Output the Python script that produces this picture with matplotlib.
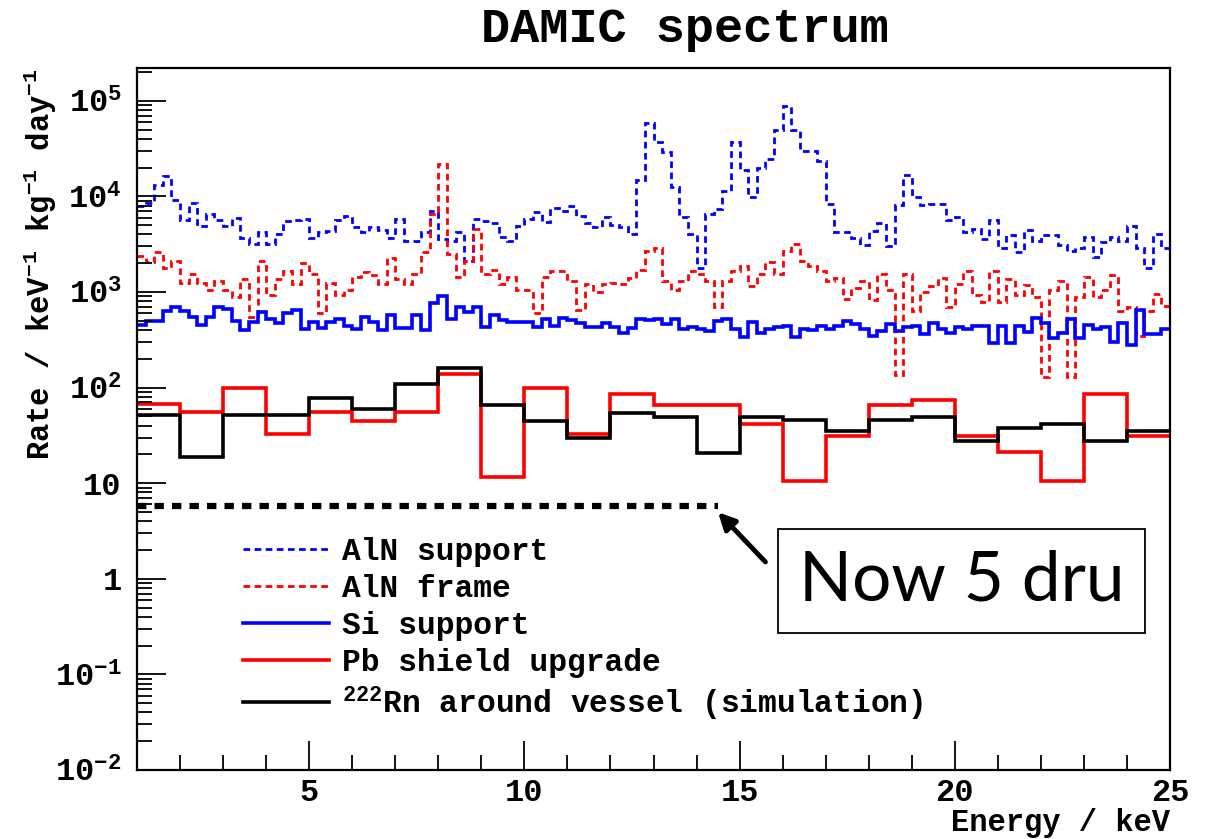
import numpy as np
import matplotlib
matplotlib.use("Agg")
import matplotlib.pyplot as plt
from matplotlib.ticker import FixedLocator, FuncFormatter, LogLocator, NullFormatter, MultipleLocator

# ---- data ----
fine_edges = np.linspace(1.0, 25.0, 121)      # 0.2 keV bins
coarse_edges = np.arange(1.0, 26.0, 1.0)      # 1 keV bins

aln_support = [
    8000, 8500, 13000, 16500, 9100, 5700, 8500, 4900, 6500, 5700, 4900, 6000, 3700,
    3200, 4200, 3200, 4000, 5500, 5600, 5800, 3700, 4200, 4300, 5600, 6300,
    4800, 4200, 4800, 4400, 3700, 5800, 3400, 3400, 4200, 7000, 3600, 3400,
    4200, 2100, 5800, 5500, 5200, 3800, 3400, 4900, 5800, 6800, 5400, 7500,
    7000, 8000, 6300, 5200, 4800, 6100, 5000, 4800, 4000, 15000, 58000, 37000,
    29000, 12600, 6100, 4000, 1800, 6500, 7300, 11500, 37000, 19000, 9800, 20000,
    24500, 49000, 89000, 49000, 30000, 30000, 23700, 8300, 4200, 4200, 3700, 3100,
    4300, 5200, 3000, 8100, 16600, 9800, 8100, 8300, 8300, 5600, 6100, 4200,
    4600, 3600, 5600, 2900, 3900, 2600, 4400, 3400, 3900, 3900, 3100, 2700,
    2900, 3800, 2300, 3300, 3800, 3400, 4900, 2900, 1800, 4000, 2900,
]

aln_frame = [
    2350, 2050, 2600, 1800, 2100, 1230, 1550, 1230, 1050, 1300, 1050, 890, 1350,
    550, 2100, 920, 1350, 1650, 1200, 2000, 1550, 600, 1230, 920, 1050,
    1420, 1600, 1500, 1200, 2250, 1350, 1200, 1550, 2600, 6600, 22000, 2500,
    1420, 2100, 4600, 1550, 1700, 1200, 1420, 1050, 1050, 600, 1420, 1650,
    1650, 1300, 650, 1200, 1000, 1200, 1250, 1200, 1400, 1700, 2700, 2900,
    1300, 1050, 1300, 1650, 1550, 1300, 700, 1300, 1650, 1850, 1150, 1550,
    2050, 1550, 2700, 3200, 2100, 1850, 1650, 1300, 1400, 850, 1100, 1300,
    830, 1550, 1050, 135, 1550, 630, 1000, 1150, 1400, 700, 1200, 1650,
    920, 780, 1650, 780, 1380, 920, 1170, 890, 130, 1050, 1300, 130,
    890, 1420, 890, 1050, 1500, 630, 700, 350, 630, 960, 720,
]

si_support = [
    450, 500, 500, 630, 690, 630, 550, 450, 550, 700, 660, 500, 400,
    480, 620, 520, 470, 600, 650, 405, 490, 415, 490, 520, 445,
    405, 550, 480, 400, 580, 415, 415, 575, 400, 760, 900, 520,
    700, 620, 690, 430, 580, 510, 480, 490, 490, 430, 520, 440,
    535, 510, 470, 435, 435, 470, 427, 370, 415, 520, 505, 520,
    465, 520, 410, 435, 410, 395, 500, 520, 410, 340, 480, 370,
    412, 435, 445, 340, 410, 400, 445, 412, 445, 500, 465, 412,
    350, 395, 465, 395, 435, 445, 360, 470, 412, 370, 435, 410,
    445, 445, 292, 445, 292, 445, 380, 535, 470, 330, 370, 525,
    330, 455, 410, 430, 300, 470, 280, 650, 365, 365, 412,
]

pb_shield = [68, 56, 100, 33, 56, 45, 56, 138, 11.5, 100, 33, 86,
             65, 65, 42, 10.5, 31, 65, 74, 31, 21, 10.5, 86, 31]

rn_vessel = [52, 18.7, 52, 52, 78, 60, 110, 162, 66, 45, 30, 54,
             49, 20.5, 49, 46, 35, 46, 49, 27.5, 38, 42, 27.5, 35]

target_rate = 5.8
target_energy = [1.0, 14.5]

y_ticks = [1e-2, 1e-1, 1, 10, 1e2, 1e3, 1e4, 1e5]

# ---- style ----
plt.rcParams['font.family'] = ['Liberation Mono', 'DejaVu Sans']
plt.rcParams['font.weight'] = 'bold'
plt.rcParams['axes.labelweight'] = 'bold'
plt.rcParams['mathtext.fontset'] = 'custom'
plt.rcParams['mathtext.rm'] = 'Liberation Mono:bold'
plt.rcParams['mathtext.it'] = 'Liberation Mono:bold'
plt.rcParams['mathtext.bf'] = 'Liberation Mono:bold'

fig = plt.figure(figsize=(12.17, 8.39), dpi=100)
ax = fig.add_axes([137 / 1217, 1 - 770 / 839, (1170 - 137) / 1217, (770 - 68) / 839])

blue = (0, 0, 1)
red = (1, 0, 0)
fine_dash = (0, (2.4, 1.6))

ax.stairs(aln_support, fine_edges, baseline=None, color=blue, lw=2.0,
          linestyle=fine_dash, label='AlN support')
ax.stairs(aln_frame, fine_edges, baseline=None, color=red, lw=2.0,
          linestyle=fine_dash, label='AlN frame')
ax.stairs(si_support, fine_edges, baseline=None, color=blue, lw=2.6,
          label='Si support')
ax.stairs(pb_shield, coarse_edges, baseline=None, color=red, lw=2.6,
          label='Pb shield upgrade')
ax.stairs(rn_vessel, coarse_edges, baseline=None, color='black', lw=2.6,
          label='$^{222}$Rn around vessel (simulation)')

ax.plot(target_energy, [target_rate, target_rate], color='black', lw=4.5,
        linestyle=(0, (1.5, 1.3)), solid_capstyle='butt')

ax.annotate('', xy=(14.5, 4.97), xytext=(15.6, 1.5),
            arrowprops=dict(arrowstyle='-|>,head_length=1.0,head_width=0.5',
                            color='black', lw=3.5, shrinkA=0, shrinkB=0))

fig.text(0.79, 0.3075, 'Now 5 dru', family='Lato', weight='normal',
         fontsize=50, ha='center', va='center',
         bbox=dict(boxstyle='square,pad=0.3', fc='white', ec='black', lw=1.3))

ax.set_xlim(1, 25)
ax.set_yscale('log')
ax.set_ylim(1e-2, 2.2e5)

ax.xaxis.set_major_locator(FixedLocator([5, 10, 15, 20, 25]))
ax.xaxis.set_minor_locator(MultipleLocator(1))
ax.yaxis.set_major_locator(FixedLocator(y_ticks))
ax.yaxis.set_minor_locator(LogLocator(base=10, subs=np.arange(2, 10)))
ax.yaxis.set_minor_formatter(NullFormatter())


def y_label(v, pos):
    if v == 1:
        return '1'
    if v == 10:
        return '10'
    return '10$^{%d}$' % int(round(np.log10(v)))


ax.yaxis.set_major_formatter(FuncFormatter(y_label))
ax.tick_params(axis='both', which='both', direction='in', top=False, right=False)
ax.tick_params(axis='both', which='major', length=21, width=1.3, labelsize=23)
ax.tick_params(axis='both', which='minor', length=10.5, width=1.3)
ax.tick_params(axis='y', which='major', pad=11)
ax.tick_params(axis='x', which='major', pad=6)
for s in ax.spines.values():
    s.set_linewidth(1.6)

ax.set_ylabel('Rate / keV$^{-1}$ kg$^{-1}$ day$^{-1}$', fontsize=22, loc='top', labelpad=-3)
ax.set_xlabel('Energy / keV', fontsize=22, loc='right', labelpad=0)
fig.text(0.563, 0.965, 'DAMIC spectrum', fontsize=35, ha='center', va='center')

leg = ax.legend(loc='upper left', bbox_to_anchor=(243 / 1217, 1 - 537 / 839),
                bbox_transform=fig.transFigure, frameon=False, fontsize=22.5,
                handlelength=2.75, handletextpad=0.42, labelspacing=0.22,
                borderpad=0, borderaxespad=0)

fig.savefig('out.png', dpi=100, facecolor='white')
